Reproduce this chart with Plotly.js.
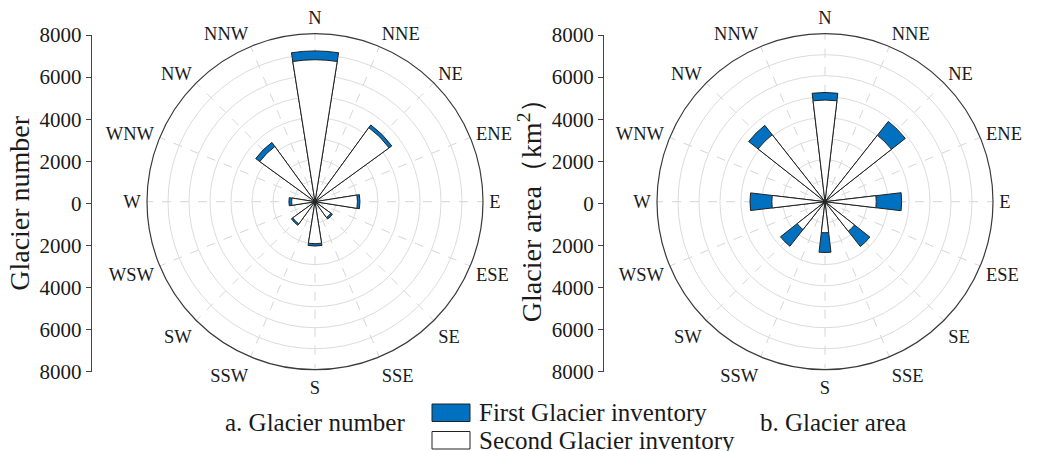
<!DOCTYPE html>
<html>
<head>
<meta charset="utf-8">
<script src="https://cdn.plot.ly/plotly-3.0.1.min.js"></script>
<style>html,body{margin:0;padding:0;background:#fff;}#chart{width:1037px;height:451px;}</style>
</head>
<body>
<div id="chart"></div>
<script>
// ---- data ----
const compassLabels = ['N','NNE','NE','ENE','E','ESE','SE','SSE','S','SSW','SW','WSW','W','WNW','NW','NNW'];
const directions = ['N','NE','E','SE','S','SW','W','NW'];
const numberFirst  = [7180, 4520, 2140, 1020, 2110, 1390, 1240, 3490];
const numberSecond = [6760, 4360, 2020,  930, 2000, 1310, 1110, 3250];
const areaFirst  = [5200, 4870, 3650, 2720, 2420, 2700, 3570, 4630];
const areaSecond = [4840, 4030, 2440, 1790, 1480, 1690, 2530, 4060];
const radialTicks = [-8000,-6000,-4000,-2000,0,2000,4000,6000,8000];
const seriesNames = ['First Glacier inventory','Second Glacier inventory'];

// ---- helpers ----
const W = 1037, H = 451;
const px = x => x / W, py = y => (H - y) / H;
const step = 360 / compassLabels.length;
const angleOf = d => compassLabels.indexOf(d) * step;
const thetas = directions.map(angleOf);
const tickAngles = compassLabels.map((_, i) => i * step);

const font = 'Liberation Serif, "Times New Roman", Times, serif';
const blue = '#0070C0';
const edge = '#222222';

function bars(r, color, subplot, width) {
  return {type:'barpolar', r:r, theta:thetas, width:thetas.map(()=>width),
    subplot:subplot, marker:{color:color, line:{color:edge, width:1}},
    showlegend:false, hoverinfo:'skip'};
}

const traces = [
  bars(numberFirst, blue, 'polar', 18),
  bars(numberSecond, '#ffffff', 'polar', 18),
  bars(areaFirst, blue, 'polar2', 13.5),
  bars(areaSecond, '#ffffff', 'polar2', 13.5),
  {type:'scatter', x:[], y:[], xaxis:'x', yaxis:'y', showlegend:false, hoverinfo:'skip'},
  {type:'scatter', x:[], y:[], xaxis:'x2', yaxis:'y2', showlegend:false, hoverinfo:'skip'}
];

function polar(x0, x1) {
  return {
    domain:{x:[px(x0), px(x1)], y:[py(369.7), py(33.7)]},
    bgcolor:'#ffffff',
    barmode:'overlay',
    radialaxis:{range:[0,8000], tickvals:[1000,2000,3000,4000,5000,6000,7000,8000],
      showticklabels:false, ticks:'', showline:false, gridcolor:'#dcdcdc', gridwidth:1},
    angularaxis:{direction:'clockwise', rotation:90, thetaunit:'degrees',
      tickmode:'array', tickvals:tickAngles, ticktext:compassLabels,
      ticks:'outside', ticklen:2, tickcolor:'rgba(0,0,0,0)',
      tickfont:{family:font, size:18.5, color:'#1a1a1a'},
      showline:true, linecolor:'#3a3a3a', linewidth:1.2,
      gridcolor:'#d6d6d6', griddash:'dash', gridwidth:1}
  };
}

function yax(pos, title) {
  return {anchor:'free', position:px(pos), domain:[py(371.7), py(35)],
    range:[-8000,8000], tickmode:'array', tickvals:radialTicks,
    ticktext:radialTicks.map(v => String(Math.abs(v))),
    ticks:'outside', ticklen:5, tickcolor:'#444', tickwidth:1,
    showline:true, linecolor:'#444', linewidth:1, showgrid:false, zeroline:false,
    tickfont:{family:font, size:21, color:'#1a1a1a'},
    title:{text:title, font:{family:font, size:28, color:'#1a1a1a'}, standoff:0},
    fixedrange:true};
}

const layout = {
  width:W, height:H, margin:{l:0,r:0,t:0,b:0},
  paper_bgcolor:'#ffffff', plot_bgcolor:'rgba(0,0,0,0)',
  font:{family:font, color:'#1a1a1a'},
  showlegend:false,
  polar:polar(147, 483),
  polar2:polar(657, 993),
  xaxis:{domain:[px(91), px(92)], visible:false, anchor:'y', range:[0,1]},
  xaxis2:{domain:[px(603), px(604)], visible:false, anchor:'y2', range:[0,1]},
  yaxis:yax(90.7, 'Glacier number'),
  yaxis2:yax(603, 'Glacier area（km<sup>2</sup>）'),
  shapes:[
    {type:'rect', xref:'paper', yref:'paper', x0:px(432), x1:px(470), y0:py(421.5), y1:py(404), fillcolor:blue, line:{color:edge, width:1}},
    {type:'rect', xref:'paper', yref:'paper', x0:px(432), x1:px(470), y0:py(449), y1:py(431.5), fillcolor:'#ffffff', line:{color:edge, width:1}}
  ],
  annotations:[
    {text:seriesNames[0], xref:'paper', yref:'paper', x:px(477), y:py(412), xanchor:'left', yanchor:'middle', showarrow:false, font:{family:font, size:25, color:'#1a1a1a'}},
    {text:seriesNames[1], xref:'paper', yref:'paper', x:px(477), y:py(440), xanchor:'left', yanchor:'middle', showarrow:false, font:{family:font, size:25, color:'#1a1a1a'}},
    {text:'a. Glacier number', xref:'paper', yref:'paper', x:px(315), y:py(422), xanchor:'center', yanchor:'middle', showarrow:false, font:{family:font, size:25, color:'#1a1a1a'}},
    {text:'b. Glacier area', xref:'paper', yref:'paper', x:px(833), y:py(422), xanchor:'center', yanchor:'middle', showarrow:false, font:{family:font, size:25, color:'#1a1a1a'}}
  ]
};

Plotly.newPlot('chart', traces, layout, {staticPlot:true, displayModeBar:false});
</script>
</body>
</html>
